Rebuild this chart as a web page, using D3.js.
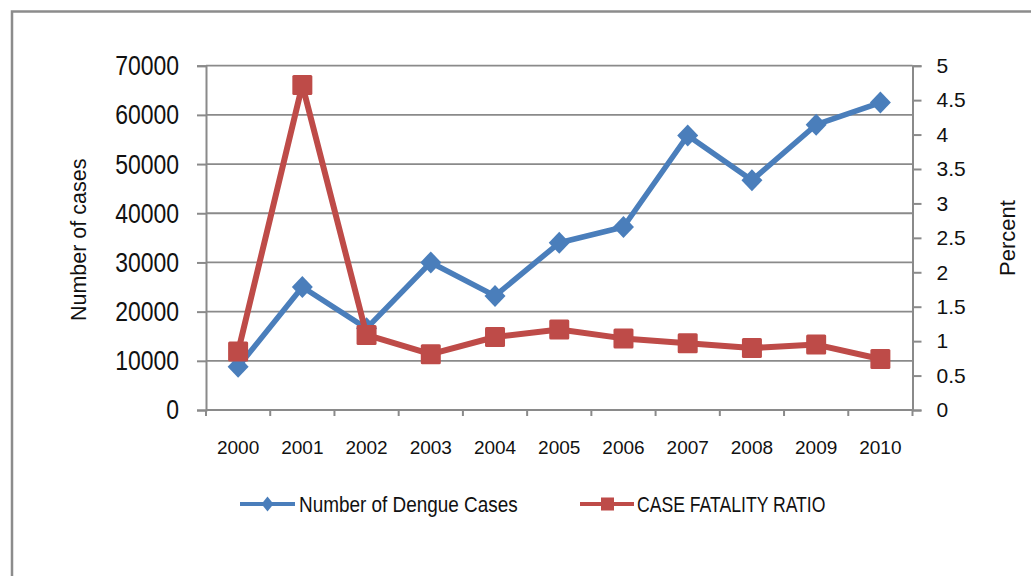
<!DOCTYPE html>
<html>
<head>
<meta charset="utf-8">
<script src="https://cdn.jsdelivr.net/npm/d3@7"></script>
<style>
  html, body { margin: 0; padding: 0; background: #fff; }
  svg { display: block; }
</style>
</head>
<body>
<svg id="chart"></svg>
<script>
// dengue cases vs case fatality ratio, 2000-2010

const years = ["2000", "2001", "2002", "2003", "2004", "2005", "2006", "2007", "2008", "2009", "2010"];
const cases = [8800, 25000, 16600, 30000, 23200, 34000, 37200, 55800, 46700, 58000, 62500];
const fatality = [0.85, 4.72, 1.09, 0.81, 1.06, 1.17, 1.04, 0.97, 0.90, 0.95, 0.74];
const caseTicks = [0, 10000, 20000, 30000, 40000, 50000, 60000, 70000];
const percentTicks = [0, 0.5, 1, 1.5, 2, 2.5, 3, 3.5, 4, 4.5, 5];
const seriesNames = ["Number of Dengue Cases", "CASE FATALITY RATIO"];

const width = 1031;
const height = 576;
const blue = "#4a7ebb";
const red = "#be4b48";
const grid = "#8a8a8a";
const regular = "'Liberation Sans', Arial, sans-serif";

const plot = {left: 206, right: 912.5, top: 65.7, bottom: 410};

// no narrow font installed, so squeeze the glyphs instead
const condense = (sel, k) => sel.each(function() {
    const w = this.getComputedTextLength();
    d3.select(this)
        .attr("textLength", w * k)
        .attr("lengthAdjust", "spacingAndGlyphs");
});

const svg = d3.select("#chart")
    .attr("width", width)
    .attr("height", height);

// outer frame (only top and left edges show)
svg.append("path")
    .attr("d", `M12,${height} L12,11.5 L${width},11.5`)
    .attr("fill", "none")
    .attr("stroke", "#8c8c8c")
    .attr("stroke-width", 2.5);

const x = d3.scalePoint()
    .domain(years)
    .range([plot.left, plot.right])
    .padding(0.5);

const yCases = d3.scaleLinear()
    .domain([0, 70000])
    .range([plot.bottom, plot.top]);

const yPct = d3.scaleLinear()
    .domain([0, 5])
    .range([plot.bottom, plot.top]);

// horizontal gridlines
svg.append("g")
    .selectAll("line")
    .data(caseTicks)
    .join("line")
    .attr("x1", plot.left)
    .attr("x2", plot.right)
    .attr("y1", d => yCases(d))
    .attr("y2", d => yCases(d))
    .attr("stroke", grid)
    .attr("stroke-width", 1.8);

// left axis
const leftAxis = svg.append("g")
    .attr("transform", `translate(${plot.left},0)`)
    .call(d3.axisLeft(yCases).tickValues(caseTicks).tickFormat(d3.format("d")).tickSize(9).tickPadding(18));

// right axis
const rightAxis = svg.append("g")
    .attr("transform", `translate(${plot.right},0)`)
    .call(d3.axisRight(yPct).tickValues(percentTicks).tickFormat(d => d).tickSize(9).tickPadding(15));

// bottom axis, ticks sit between categories
const step = x.step();
const xEdges = d3.range(years.length + 1).map(i => plot.left + i * step);

const bottomAxis = svg.append("g");
bottomAxis.append("line")
    .attr("x1", plot.left)
    .attr("x2", plot.right)
    .attr("y1", plot.bottom)
    .attr("y2", plot.bottom)
    .attr("stroke", grid)
    .attr("stroke-width", 2);
bottomAxis.selectAll(".xtick")
    .data(xEdges)
    .join("line")
    .attr("class", "xtick")
    .attr("x1", d => d)
    .attr("x2", d => d)
    .attr("y1", plot.bottom)
    .attr("y2", plot.bottom + 6)
    .attr("stroke", grid)
    .attr("stroke-width", 2);
bottomAxis.selectAll(".xlabel")
    .data(years)
    .join("text")
    .attr("class", "xlabel")
    .attr("x", d => x(d))
    .attr("y", 447)
    .attr("text-anchor", "middle")
    .attr("dominant-baseline", "central")
    .style("font-family", regular)
    .style("font-size", "19px")
    .attr("fill", "#111")
    .text(d => d);

[leftAxis, rightAxis].forEach(g => {
    g.select(".domain").attr("stroke", grid).attr("stroke-width", 2);
    g.selectAll(".tick line").attr("stroke", grid).attr("stroke-width", 2);
    g.selectAll(".tick text").attr("fill", "#111").style("font-family", regular);
});
leftAxis.selectAll(".tick text")
    .style("font-size", "28px")
    .call(condense, 0.82);
rightAxis.selectAll(".tick text")
    .style("font-size", "21px");

// axis titles
svg.append("text")
    .attr("transform", `translate(79,${(plot.top + plot.bottom) / 2 + 2}) rotate(-90)`)
    .attr("text-anchor", "middle")
    .attr("dominant-baseline", "central")
    .style("font-family", regular)
    .style("font-size", "21.5px")
    .attr("fill", "#111")
    .text("Number of cases");

svg.append("text")
    .attr("transform", `translate(1007,238) rotate(-90)`)
    .attr("text-anchor", "middle")
    .attr("dominant-baseline", "central")
    .style("font-family", regular)
    .style("font-size", "22px")
    .attr("fill", "#111")
    .text("Percent");

// series
const caseLine = d3.line()
    .x((d, i) => x(years[i]))
    .y(d => yCases(d));

const pctLine = d3.line()
    .x((d, i) => x(years[i]))
    .y(d => yPct(d));

const diamond = (cx, cy, w, h) => `M${cx},${cy - h} L${cx + w},${cy} L${cx},${cy + h} L${cx - w},${cy} Z`;

svg.append("path")
    .datum(cases)
    .attr("d", caseLine)
    .attr("fill", "none")
    .attr("stroke", blue)
    .attr("stroke-width", 5.5)
    .attr("stroke-linejoin", "round");

svg.append("g")
    .selectAll("path")
    .data(cases)
    .join("path")
    .attr("d", (d, i) => diamond(x(years[i]), yCases(d), 10.5, 11))
    .attr("fill", blue);

svg.append("path")
    .datum(fatality)
    .attr("d", pctLine)
    .attr("fill", "none")
    .attr("stroke", red)
    .attr("stroke-width", 6)
    .attr("stroke-linejoin", "round");

svg.append("g")
    .selectAll("rect")
    .data(fatality)
    .join("rect")
    .attr("x", (d, i) => x(years[i]) - 10)
    .attr("y", d => yPct(d) - 10)
    .attr("width", 20)
    .attr("height", 20)
    .attr("rx", 1.5)
    .attr("fill", red);

// legend
const legend = svg.append("g");
const legendY = 504;

legend.append("line")
    .attr("x1", 240).attr("x2", 295)
    .attr("y1", legendY).attr("y2", legendY)
    .attr("stroke", blue).attr("stroke-width", 4);
legend.append("path")
    .attr("d", diamond(267.5, legendY, 6, 7.5))
    .attr("fill", blue);
legend.append("text")
    .attr("x", 299)
    .attr("y", legendY)
    .attr("dominant-baseline", "central")
    .style("font-family", regular)
    .style("font-size", "22px")
    .attr("fill", "#111")
    .text(seriesNames[0])
    .call(condense, 0.86);

legend.append("line")
    .attr("x1", 580).attr("x2", 634)
    .attr("y1", legendY).attr("y2", legendY)
    .attr("stroke", red).attr("stroke-width", 4);
legend.append("rect")
    .attr("x", 601).attr("y", legendY - 6.5)
    .attr("width", 13).attr("height", 13)
    .attr("fill", red);
legend.append("text")
    .attr("x", 637)
    .attr("y", legendY)
    .attr("dominant-baseline", "central")
    .style("font-family", regular)
    .style("font-size", "22px")
    .attr("fill", "#111")
    .text(seriesNames[1])
    .call(condense, 0.8);
</script>
</body>
</html>
